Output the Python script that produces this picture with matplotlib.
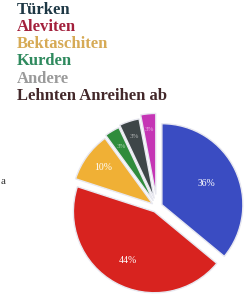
import matplotlib
matplotlib.use("Agg")
import matplotlib.pyplot as plt
import numpy as np

categories = ["Türken", "Aleviten", "Bektaschiten", "Kurden", "Andere", "Lehnten Anreihen ab"]
shares = [36, 44, 10, 3, 4, 3]
pct_labels = ["36%", "44%", "10%", "3%", "3%", "3%"]
wedge_colors = ["#3a4cc2", "#d8231f", "#f0b035", "#2f8c3c", "#3e4648", "#c535b5"]
text_colors = ["#1e3845", "#a3203c", "#d6aa55", "#2f8a5e", "#9a9a9a", "#43282a"]

fig = plt.figure(figsize=(2.46, 2.96), dpi=100)
fig.patch.set_facecolor("white")

# legend-like colored labels at top-left
for i, (name, col) in enumerate(zip(categories, text_colors)):
    fig.text(17 / 246, 1 - (9.5 + i * 17.3) / 296, name, color=col, fontsize=12,
             fontweight="bold", family="Liberation Serif", va="center", ha="left")

# letter at left edge
fig.text(0.5 / 246, 1 - 181 / 296, "a", color="#333333", fontsize=8,
         family="Liberation Serif", va="center", ha="left")

ax = fig.add_axes([(157 - 90) / 246, (296 - 207 - 90) / 296, 180 / 246, 180 / 296])
explode = [0.06, 0.06, 0.06, 0.08, 0.1, 0.14]
wedges, texts = ax.pie(shares, colors=wedge_colors, startangle=90, counterclock=False,
                       explode=explode, radius=0.9,
                       wedgeprops=dict(edgecolor="#e8e8f0", linewidth=1.0))
label_r = [0.55, 0.62, 0.68, 0.7, 0.72, 0.72]
for w, lab, r in zip(wedges, pct_labels, label_r):
    ang = np.deg2rad((w.theta1 + w.theta2) / 2)
    cx, cy = w.center
    big = lab in ("36%", "44%", "10%") and r < 0.7
    ax.text(cx + r * np.cos(ang), cy + r * np.sin(ang), lab, color="white",
            fontsize=7 if big else 5, ha="center", va="center",
            family="Liberation Serif", alpha=1.0 if big else 0.6)
ax.set_xlim(-1, 1)
ax.set_ylim(-1, 1)
ax.set_aspect("equal")
ax.axis("off")

fig.savefig("out.png", dpi=100)
